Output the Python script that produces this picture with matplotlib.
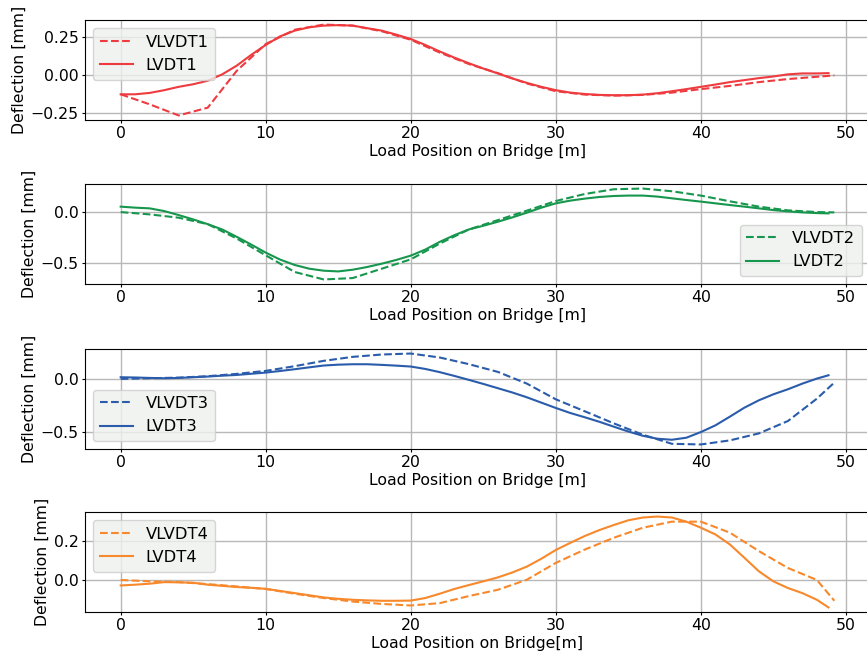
import matplotlib
matplotlib.use("Agg")
import matplotlib.pyplot as plt

# ---- data ----
x_v = [0, 2, 4, 6, 8, 10, 12, 14, 16, 18, 20, 22, 24, 26, 28, 30, 32, 34, 36, 38, 40, 42, 44, 46, 48, 49.2]
x_l = list(range(0, 49)) + [48.8]

vlvdt1 = [-0.124, -0.19, -0.263, -0.212, 0.03, 0.206, 0.30, 0.334, 0.327, 0.29, 0.234, 0.15, 0.075,
          0.015, -0.053, -0.104, -0.126, -0.133, -0.128, -0.113, -0.09, -0.069, -0.044, -0.024, -0.009, 0.0]
lvdt1 = [-0.124, -0.124, -0.115, -0.097, -0.075, -0.058, -0.035, 0.007, 0.064, 0.135, 0.20, 0.257, 0.294,
         0.316, 0.327, 0.33, 0.327, 0.31, 0.294, 0.268, 0.239, 0.20, 0.157, 0.117, 0.08, 0.045,
         0.013, -0.02, -0.049, -0.075, -0.097, -0.113, -0.122, -0.128, -0.13, -0.13, -0.126, -0.117,
         -0.104, -0.09, -0.075, -0.06, -0.044, -0.031, -0.018, -0.007, 0.007, 0.013, 0.013, 0.015]

vlvdt2 = [0.003, -0.02, -0.053, -0.117, -0.26, -0.427, -0.593, -0.667, -0.653, -0.56, -0.467, -0.31, -0.17,
          -0.077, 0.017, 0.113, 0.183, 0.23, 0.237, 0.21, 0.167, 0.11, 0.057, 0.02, 0.003, 0.0]
lvdt2 = [0.057, 0.047, 0.04, 0.013, -0.027, -0.07, -0.117, -0.17, -0.243, -0.32, -0.40, -0.47, -0.523,
         -0.56, -0.58, -0.587, -0.57, -0.543, -0.51, -0.473, -0.43, -0.37, -0.293, -0.227, -0.17, -0.133,
         -0.093, -0.05, -0.003, 0.047, 0.09, 0.117, 0.137, 0.153, 0.163, 0.167, 0.167, 0.157, 0.14,
         0.123, 0.107, 0.09, 0.073, 0.057, 0.04, 0.023, 0.01, 0.0, -0.007, -0.01]

vlvdt3 = [-0.003, 0.003, 0.009, 0.022, 0.044, 0.072, 0.116, 0.166, 0.203, 0.225, 0.234, 0.197, 0.135,
          0.0625, -0.047, -0.194, -0.306, -0.419, -0.525, -0.61, -0.616, -0.578, -0.5125, -0.397, -0.1875, -0.0375]
lvdt3 = [0.0125, 0.01, 0.006, 0.003, 0.006, 0.0125, 0.019, 0.027, 0.034, 0.045, 0.056, 0.071, 0.0875,
         0.105, 0.122, 0.13, 0.134, 0.134, 0.128, 0.121, 0.1125, 0.09, 0.06, 0.025, -0.012, -0.05,
         -0.09, -0.13, -0.175, -0.225, -0.275, -0.322, -0.362, -0.404, -0.45, -0.495, -0.535,
         -0.5625, -0.572, -0.553, -0.5, -0.4375, -0.356, -0.272, -0.203, -0.147, -0.1, -0.047, 0.0, 0.031]

vlvdt4 = [0.002, -0.005, -0.009, -0.019, -0.031, -0.044, -0.068, -0.09, -0.108, -0.12, -0.128, -0.116, -0.08,
          -0.048, 0.003, 0.089, 0.157, 0.217, 0.268, 0.299, 0.299, 0.243, 0.149, 0.063, 0.002, -0.104]
lvdt4 = [-0.026, -0.022, -0.017, -0.009, -0.01, -0.012, -0.022, -0.028, -0.034, -0.038, -0.043, -0.054,
         -0.065, -0.076, -0.087, -0.094, -0.099, -0.102, -0.104, -0.104, -0.103, -0.09, -0.068, -0.044,
         -0.024, -0.005, 0.015, 0.04, 0.07, 0.11, 0.155, 0.191, 0.226, 0.256, 0.282, 0.306, 0.32, 0.325,
         0.32, 0.299, 0.268, 0.234, 0.183, 0.115, 0.046, -0.005, -0.039, -0.065, -0.099, -0.138]

v_labels = ["VLVDT1", "VLVDT2", "VLVDT3", "VLVDT4"]
l_labels = ["LVDT1", "LVDT2", "LVDT3", "LVDT4"]
xlabels = ["Load Position on Bridge [m]"] * 3 + ["Load Position on Bridge[m]"]
ylabel = "Deflection [mm]"
colors = ["#ee3b3f", "#17964d", "#2a5cab", "#f7892c"]
legend_locs = ["upper left", "lower right", "lower left", "upper left"]
yticks = [[-0.25, 0.0, 0.25], [-0.5, 0.0], [-0.5, 0.0], [0.0, 0.2]]
ytick_fmt = ["{:.2f}", "{:.1f}", "{:.1f}", "{:.1f}"]

V = [vlvdt1, vlvdt2, vlvdt3, vlvdt4]
L = [lvdt1, lvdt2, lvdt3, lvdt4]

FS = 11.3
fig = plt.figure(figsize=(8.67, 6.54), dpi=100)
tops = [20, 184, 349, 512]
h_px = 100
left_px = 85
for i in range(4):
    bottom = 1 - (tops[i] + h_px) / 654
    ax = fig.add_axes([left_px / 867, bottom, (870 - left_px) / 867, h_px / 654])
    ax.plot(x_v, V[i], "--", color=colors[i], lw=1.5, label=v_labels[i])
    ax.plot(x_l, L[i], "-", color=colors[i], lw=1.5, label=l_labels[i])
    ax.set_xticks([0, 10, 20, 30, 40, 50])
    ax.set_yticks(yticks[i])
    ax.set_yticklabels([ytick_fmt[i].format(t).replace("-", "\u2212") for t in yticks[i]])
    ax.grid(True, color="#b8b8b8", lw=1)
    ax.set_axisbelow(True)
    ax.tick_params(labelsize=FS, length=2.5, pad=2)
    ax.set_xlabel(xlabels[i], fontsize=FS, labelpad=2)
    ax.set_ylabel(ylabel, fontsize=FS, labelpad=3)
    leg = ax.legend(loc=legend_locs[i], fontsize=11.8, framealpha=0.8)
    leg.get_frame().set_facecolor("#eef1ee")

fig.savefig("out.png", dpi=100)
